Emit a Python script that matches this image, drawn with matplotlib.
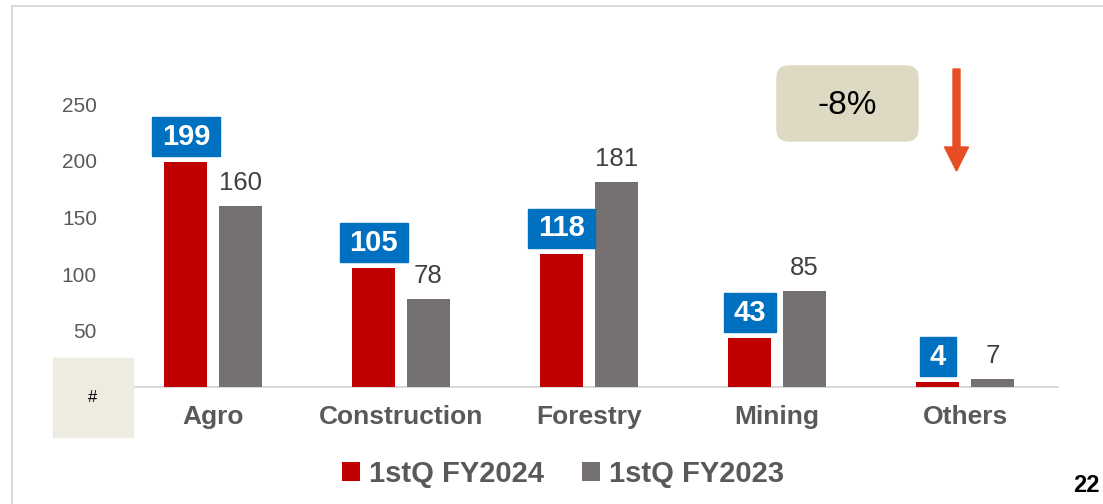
import matplotlib
matplotlib.use("Agg")
import matplotlib.pyplot as plt
import numpy as np
from matplotlib.patches import Rectangle, FancyBboxPatch, FancyArrow
from matplotlib.lines import Line2D
from matplotlib.transforms import IdentityTransform

plt.rcParams['font.family'] = ['Liberation Sans', 'DejaVu Sans']

# data
categories = ['Agro', 'Construction', 'Forestry', 'Mining', 'Others']
fy2024 = [199, 105, 118, 43, 4]
fy2023 = [160, 78, 181, 85, 7]
series_names = ['1stQ FY2024', '1stQ FY2023']
yticks = [50, 100, 150, 200, 250]
change_text = '-8%'
page_no = '22'

RED = '#C00000'
GREY = '#767171'
BLUE = '#0070C0'
TXT = '#595959'

W, H = 1103, 504
fig = plt.figure(figsize=(W / 100, H / 100), dpi=100)
fig.patch.set_facecolor('white')

# axes placed by pixel position
ax = fig.add_axes([133 / W, 1 - 387 / H, (1058 - 133) / W, 339 / H])
ax.set_xlim(-0.426, 4.494)
ax.set_ylim(0, 300)

x = np.arange(len(categories))
off = 0.145
bw = 0.228
b1 = ax.bar(x - off, fy2024, width=bw, color=RED, label=series_names[0], zorder=3)
b2 = ax.bar(x + off, fy2023, width=bw, color=GREY, label=series_names[1], zorder=3)

for s in ['top', 'right', 'left']:
    ax.spines[s].set_visible(False)
ax.spines['bottom'].set_color('#D9D9D9')
ax.spines['bottom'].set_linewidth(1.5)

ax.set_yticks(yticks)
ax.set_yticklabels([str(v) for v in yticks])
ax.tick_params(axis='y', length=0, pad=26, labelsize=15, labelcolor=TXT)
ax.set_xticks(x)
ax.set_xticklabels(categories, fontweight='bold')
ax.tick_params(axis='x', length=0, pad=13, labelsize=19, labelcolor=TXT)
ax.patch.set_alpha(0)

# grey value labels
for xi, v in zip(x, fy2023):
    ax.annotate(str(v), (xi + off, v), xytext=(0, 11.5), textcoords='offset points',
                ha='center', va='baseline', fontsize=18.5, color='#404040')

# blue boxed value labels
fig.canvas.draw()
renderer = fig.canvas.get_renderer()
inv = ax.transData.inverted()
for xi, v in zip(x, fy2024):
    t = ax.annotate(str(v), (xi - off, v), xytext=(0, (6 + 19.5) * 0.72),
                    textcoords='offset points', ha='center', va='center',
                    fontsize=21, fontweight='bold', color='white', zorder=5)
    bb = t.get_window_extent(renderer)
    px, py = ax.transData.transform((xi - off, v))
    bw_px = bb.width + 20
    (x0, y0) = inv.transform((px - bw_px / 2, py + 6))
    (x1, y1) = inv.transform((px + bw_px / 2, py + 45))
    ax.add_patch(Rectangle((x0, y0), x1 - x0, y1 - y0, color=BLUE, zorder=4,
                           clip_on=False))

# legend
fig.legend(handles=[b1, b2], labels=series_names, loc='center',
           bbox_to_anchor=(563 / W, 1 - 474 / H), ncol=2, frameon=False,
           prop={'weight': 'bold', 'size': 21}, labelcolor=TXT,
           handlelength=0.62, handleheight=0.62, handletextpad=0.3,
           columnspacing=1.3)

idt = IdentityTransform()
# "#" box at bottom left
fig.patches.append(Rectangle((53, H - 437), 80, 79, color='#EEEBE0',
                             transform=idt, figure=fig, zorder=0))
fig.text(93 / W, 1 - 397 / H, '#', ha='center', va='center', fontsize=12,
         color='black')

# change box and arrow
fig.patches.append(FancyBboxPatch((777 + 12, H - 141 + 12), 141 - 24, 75 - 24,
                                  boxstyle='round,pad=12', color='#DDD9C3',
                                  transform=idt, figure=fig))
fig.text(847 / W, 1 - 105 / H, change_text, ha='center', va='center',
         fontsize=24, color='black')
fig.patches.append(FancyArrow(956.5, H - 69, 0, -102, width=7, head_width=24,
                              head_length=24, length_includes_head=True,
                              color='#E84E23', transform=idt, figure=fig))

# page number
fig.text(1086 / W, 1 - 485 / H, page_no, ha='center', va='center',
         fontsize=17, fontweight='bold', color='black')

# slide frame lines
fig.add_artist(Line2D([12 / W, 1], [1 - 6 / H, 1 - 6 / H], color='#D9D9D9', lw=1.5))
fig.add_artist(Line2D([12 / W, 12 / W], [0, 1 - 6 / H], color='#D9D9D9', lw=1.5))

fig.savefig('out.png', dpi=100)
